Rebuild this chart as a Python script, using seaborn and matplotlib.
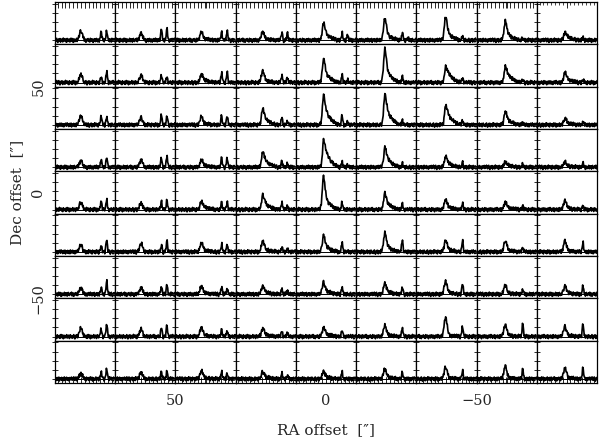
import numpy as np
import pandas as pd
import matplotlib
matplotlib.use("Agg")
import matplotlib.pyplot as plt
import seaborn as sns

# map offsets (arcsec), rows top->bottom, columns left->right
ra_offsets = [80, 60, 40, 20, 0, -20, -40, -60, -80]
dec_offsets = [80, 60, 40, 20, 0, -20, -40, -60, -80]

n_chan = 110
# channel of the main line peak in each column
main_chan = [47, 47, 47, 49, 50, 52, 53, 52, 51]
narrow1_chan = 84
narrow2_chan = 94

# total peak of the main line in each cell
main_peak = [
    [1.0, 0.75, 0.9, 0.9, 1.9, 2.4, 2.6, 2.1, 0.9],
    [0.9, 0.8, 0.9, 1.3, 2.6, 3.7, 1.8, 1.8, 1.1],
    [1.0, 0.8, 0.9, 1.8, 3.3, 3.4, 2.2, 1.5, 0.7],
    [0.7, 0.8, 0.8, 1.7, 3.0, 2.2, 1.2, 0.6, 0.6],
    [0.8, 0.7, 0.9, 1.6, 3.6, 1.8, 1.1, 0.8, 1.0],
    [0.75, 0.9, 1.0, 1.2, 1.8, 2.1, 1.3, 1.2, 1.2],
    [0.7, 0.7, 0.9, 0.9, 1.3, 1.2, 1.4, 1.0, 0.9],
    [0.9, 0.8, 1.0, 0.9, 1.0, 1.2, 2.1, 1.3, 1.1],
    [0.6, 0.7, 0.9, 0.8, 0.8, 1.1, 1.3, 1.4, 1.2],
]
# part of it that sits in the red wing
main_wing = [
    [0.0, 0.0, 0.2, 0.2, 0.9, 0.8, 1.0, 0.9, 0.5],
    [0.0, 0.0, 0.4, 0.3, 1.3, 1.6, 1.4, 1.2, 0.5],
    [0.0, 0.0, 0.2, 0.9, 2.0, 2.0, 1.5, 0.7, 0.3],
    [0.0, 0.0, 0.3, 1.0, 2.2, 1.3, 0.6, 0.3, 0.2],
    [0.0, 0.0, 0.4, 0.9, 1.5, 0.9, 0.4, 0.3, 0.2],
    [0.0, 0.0, 0.3, 0.4, 0.8, 0.8, 0.4, 0.3, 0.2],
    [0.0, 0.0, 0.2, 0.3, 0.5, 0.4, 0.3, 0.2, 0.2],
    [0.0, 0.0, 0.2, 0.3, 0.4, 0.3, 0.2, 0.2, 0.2],
    [0.0, 0.0, 0.2, 0.3, 0.3, 0.3, 0.2, 0.2, 0.2],
]
narrow1_peak = [
    [0.9, 1.2, 0.9, 0.8, 0.75, 0.8, 0.4, 0.3, 0.3],
    [0.6, 0.8, 1.1, 0.8, 0.8, 0.7, 0.5, 0.3, 0.3],
    [1.0, 1.1, 1.0, 0.8, 1.0, 0.5, 0.5, 0.3, 0.3],
    [0.8, 1.0, 1.0, 0.7, 0.6, 0.4, 0.5, 0.3, 0.4],
    [0.9, 0.9, 0.8, 0.8, 0.8, 0.6, 0.6, 0.4, 0.4],
    [0.7, 0.7, 0.8, 0.5, 1.0, 1.3, 1.2, 0.5, 1.0],
    [0.7, 0.8, 0.8, 0.6, 0.8, 0.8, 1.2, 0.5, 0.9],
    [0.8, 1.0, 0.8, 0.6, 0.7, 0.9, 1.1, 1.4, 1.4],
    [0.8, 0.8, 0.8, 0.6, 0.7, 0.7, 0.9, 1.1, 1.2],
]
narrow2_peak = [
    [1.0, 1.2, 0.9, 0.8, 0.6, 0.3, 0.0, 0.0, 0.0],
    [1.2, 0.6, 1.1, 0.6, 0.3, 0.0, 0.0, 0.0, 0.0],
    [0.9, 1.0, 1.0, 0.4, 0.3, 0.0, 0.0, 0.0, 0.0],
    [1.1, 1.2, 1.0, 0.4, 0.3, 0.0, 0.0, 0.0, 0.0],
    [1.0, 1.0, 0.8, 0.4, 0.0, 0.0, 0.0, 0.0, 0.0],
    [1.4, 1.2, 0.8, 0.4, 0.0, 0.0, 0.0, 0.0, 0.0],
    [1.4, 1.0, 0.6, 0.4, 0.0, 0.0, 0.0, 0.0, 0.0],
    [1.4, 1.2, 0.6, 0.4, 0.0, 0.0, 0.0, 0.0, 0.0],
    [1.1, 0.8, 0.6, 0.4, 0.0, 0.0, 0.0, 0.0, 0.0],
]

# line shapes (peak normalised)
core_shape = [0.03, 0.08, 0.18, 0.35, 0.58, 0.8, 0.95, 1.0, 0.92, 0.75, 0.52,
              0.32, 0.17, 0.08, 0.03]
wing_shape = [0.15, 0.45, 0.8, 1.0, 0.97, 0.92, 0.86, 0.8, 0.74, 0.68, 0.62, 0.57,
              0.52, 0.47, 0.42, 0.38, 0.34, 0.3, 0.27, 0.24, 0.21, 0.18, 0.15, 0.13,
              0.11, 0.09, 0.07, 0.05, 0.04, 0.03, 0.02, 0.01]
narrow_shape = [0.1, 0.45, 0.9, 1.0, 0.5, 0.12]

# baseline ripple, typed once and shifted per cell
ripple = [0.05, -0.12, 0.08, 0.15, -0.04, -0.18, 0.02, 0.11, -0.07, 0.13, -0.15, 0.03,
          0.09, -0.02, -0.13, 0.17, -0.06, 0.01, 0.12, -0.1, 0.06, -0.16, 0.14, -0.03,
          0.07, -0.09, 0.1, -0.14, 0.04, 0.16, -0.08, -0.01, 0.13, -0.17, 0.05, 0.09,
          -0.11, 0.02, -0.05, 0.15, -0.12, 0.08, -0.02, 0.11, -0.15, 0.06, 0.14, -0.07,
          -0.1, 0.03, 0.12, -0.04, 0.16, -0.13, 0.0, 0.09, -0.16, 0.07, -0.06, 0.1,
          0.13, -0.09, 0.04, -0.14, 0.15, -0.02, -0.08, 0.11, 0.05, -0.17, 0.08, -0.03,
          0.12, -0.11, 0.06, 0.14, -0.05, -0.12, 0.1, 0.02, -0.15, 0.09, -0.07, 0.13,
          0.01, -0.1, 0.16, -0.04, 0.07, -0.13, 0.11, -0.01, -0.09, 0.14, -0.16, 0.03,
          0.08, -0.06, 0.12, -0.12, 0.05, 0.1, -0.14, 0.15, -0.03, -0.08, 0.06, 0.13,
          -0.11, 0.02, 0.09, -0.15, 0.04, 0.11, -0.07, -0.02, 0.14, -0.1, 0.07, -0.05, 0.16]


def add_shape(spec, shape, amp, centre, offset):
    shape = np.asarray(shape)
    start = centre - offset
    spec[start:start + len(shape)] += amp * shape


def build_spectrum(i, j):
    base = np.resize(np.asarray(ripple), n_chan + 60)
    spec = np.roll(base, -(i * 9 + j) * 13)[:n_chan].copy() * 1.4
    wing = main_wing[i][j]
    add_shape(spec, core_shape, main_peak[i][j] - wing, main_chan[j], 7)
    add_shape(spec, wing_shape, wing, main_chan[j], 3)
    add_shape(spec, narrow_shape, narrow1_peak[i][j], narrow1_chan, 3)
    add_shape(spec, narrow_shape, narrow2_peak[i][j], narrow2_chan, 3)
    return spec


sns.set_style("ticks")
plt.rcParams["font.family"] = ["DejaVu Serif"]

fig = plt.figure(figsize=(6, 4.41), dpi=100)
axes = fig.subplots(9, 9, sharex=True, sharey=True,
                    gridspec_kw=dict(hspace=0, wspace=0))
box = dict(left=55 / 600, right=597 / 600, top=1 - 2 / 441, bottom=1 - 383 / 441)
fig.subplots_adjust(**box)

chan = np.arange(n_chan)
for i in range(9):
    for j in range(9):
        ax = axes[i, j]
        spec = build_spectrum(i, j)
        df = pd.DataFrame({"chan": chan, "flux": spec})
        ax.axhline(0, color="black", lw=0.7, zorder=1)
        sns.lineplot(data=df, x="chan", y="flux", ax=ax, color="black",
                     lw=1.2, estimator=None, zorder=2)
        ax.set_xlim(0, n_chan - 1)
        ax.set_ylim(-0.45, 4.2)
        ax.set_xlabel("")
        ax.set_ylabel("")
        ax.set_yticks([0, 1, 2, 3, 4])
        ax.set_xticks([(n_chan - 1) / 2])
        ax.tick_params(axis="y", which="both", left=True, right=False,
                       direction="inout", length=5, width=0.7, labelleft=False)
        ax.tick_params(axis="x", which="both", top=(i == 0), bottom=(i == 8),
                       direction="in", length=4, width=0.7,
                       labelbottom=False, labeltop=False)
        for sp in ax.spines.values():
            sp.set_linewidth(0.9)
            sp.set_color("black")
        ax.set_facecolor("white")

# minor ticks along the top of the top-right box
corner = axes[0, 8]
corner.set_xticks(np.arange(5, n_chan, 7), minor=True)
corner.tick_params(axis="x", which="minor", top=True, bottom=False,
                   direction="in", length=2, width=0.6)

# outer offset axes
outer = fig.add_axes([box["left"], box["bottom"], box["right"] - box["left"],
                      box["top"] - box["bottom"]], facecolor="none", zorder=-1)
outer.set_xlim(90, -90)
outer.set_ylim(-90, 90)
outer.set_xticks([50, 0, -50])
outer.set_yticks([50, 0, -50])
outer.tick_params(axis="both", length=0, labelsize=10.5)
outer.tick_params(axis="x", pad=8)
outer.tick_params(axis="y", pad=7)
for lab in outer.get_yticklabels():
    lab.set_rotation(90)
    lab.set_va("center")
for sp in outer.spines.values():
    sp.set_visible(False)
outer.set_xlabel("RA offset  [\u2033]", fontsize=11, labelpad=11)
outer.set_ylabel("Dec offset  [\u2033]", fontsize=11, labelpad=5)

fig.savefig("out.png", dpi=100)
